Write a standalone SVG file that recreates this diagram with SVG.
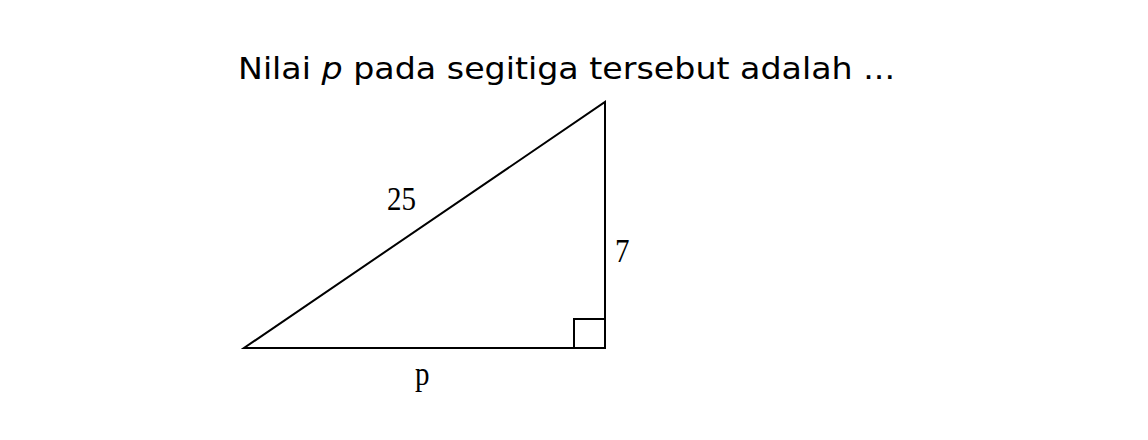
<svg xmlns="http://www.w3.org/2000/svg" width="1148" height="440" viewBox="0 0 1148 440">
<style>
.title{font-family:"DejaVu Sans","Liberation Sans",sans-serif;font-size:31px;fill:#000}
.lbl{font-family:"Liberation Serif",serif;font-size:29px;fill:#000}
.ln{stroke:#000;stroke-width:2;fill:none}
</style>
<rect width="1148" height="440" fill="#fff"/>
<text class="title" x="238" y="79" textLength="657" lengthAdjust="spacingAndGlyphs">Nilai <tspan font-style="italic">p</tspan> pada segitiga tersebut adalah ...</text>
<g id="triangle">
<polygon class="ln" points="244,348 605,348 605,102"/>
<polyline class="ln" points="574,348 574,319 605,319"/>
</g>
<g id="labels">
<text class="lbl" transform="translate(387,210) scale(1,1.15)">25</text>
<text class="lbl" transform="translate(615,262) scale(1,1.15)">7</text>
<text class="lbl" transform="translate(415,385) scale(1,1.15)">p</text>
</g>
</svg>
